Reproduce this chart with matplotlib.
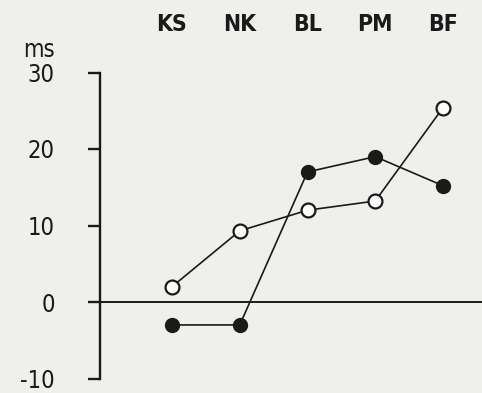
import matplotlib
matplotlib.use("Agg")
import matplotlib.pyplot as plt

categories = ["KS", "NK", "BL", "PM", "BF"]
open_vals = [2, 9.3, 12, 13.2, 25.4]
filled_vals = [-3, -3, 17, 19, 15.2]
yticks = [-10, 0, 10, 20, 30]

plt.rcParams['font.family'] = ['DejaVu Sans']
plt.rcParams['font.stretch'] = 'condensed'

W, H = 482, 393
fig = plt.figure(figsize=(W / 100, H / 100), dpi=100)
bg = '#efefec'
ink = '#1a1a1a'
fig.patch.set_facecolor(bg)
ax = fig.add_axes([0, 0, 1, 1])
ax.set_facecolor(bg)

# pixel mapping
x0px, dxpx = 172, 67.75
y0px, dypx = 302, 7.65
ax.set_xlim(-x0px / dxpx, (W - x0px) / dxpx)
ax.set_ylim(-(H - y0px) / dypx, y0px / dypx)

xs = list(range(len(categories)))
ax.plot(xs, open_vals, '-o', color=ink, lw=1.2, ms=10, mfc='white',
        mec=ink, mew=1.6, zorder=3)
ax.plot(xs, filled_vals, '-o', color=ink, lw=1.2, ms=10, mfc=ink,
        mec=ink, mew=1.0, zorder=3)

axis_x = (100 - x0px) / dxpx
zero_left = (89 - x0px) / dxpx
ax.plot([zero_left, (W - x0px) / dxpx], [0, 0], color=ink, lw=1.4, zorder=2)

for s in ['right', 'bottom', 'top']:
    ax.spines[s].set_visible(False)
ax.spines['left'].set_position(('data', axis_x))
ax.spines['left'].set_bounds(-10, 30)
ax.spines['left'].set_linewidth(1.7)
ax.spines['left'].set_color(ink)
ax.set_yticks(yticks)
ax.set_yticklabels([str(v) if v >= 0 else '-' + str(abs(v)) for v in yticks])
ax.tick_params(axis='y', direction='out', length=8.5, width=1.7,
               color=ink, pad=24, labelsize=17, labelcolor=ink)

ax.xaxis.tick_top()
ax.set_xticks(xs)
ax.set_xticklabels(categories, fontweight='bold', fontsize=16.5, color=ink)
ax.tick_params(axis='x', length=0, pad=-26)

ax.text(-1.97, 33.0, 'ms', fontsize=17, ha='center', va='center', color=ink)

fig.savefig('out.png', dpi=100, facecolor=bg)
